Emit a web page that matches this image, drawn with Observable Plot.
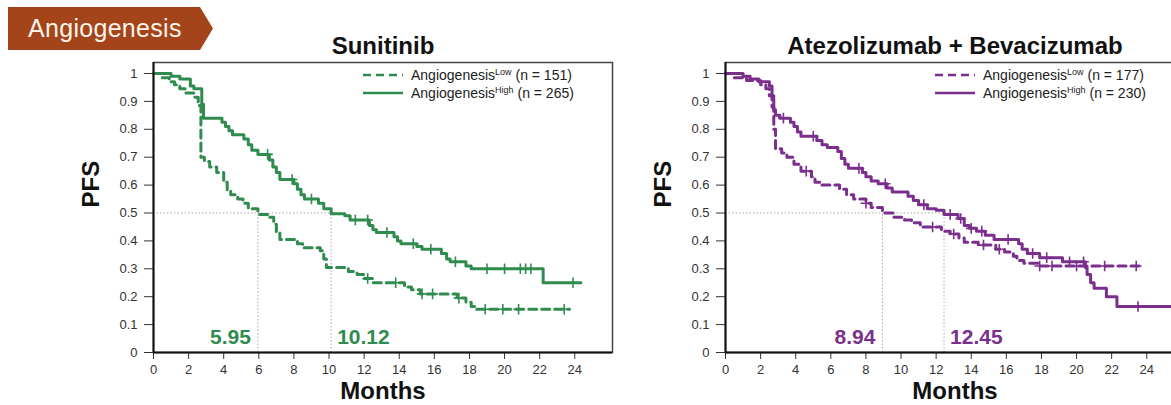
<!DOCTYPE html>
<html>
<head>
<meta charset="utf-8">
<script src="https://cdn.jsdelivr.net/npm/d3@7"></script>
<script src="https://cdn.jsdelivr.net/npm/@observablehq/plot@0.6"></script>
<style>
  html, body { margin: 0; padding: 0; background: #fff; }
  #wrap { position: relative; width: 1171px; height: 405px; overflow: hidden; font-family: 'Liberation Sans', Arial, sans-serif; }
  #badge { position: absolute; left: 8px; top: 7px; width: 205px; height: 43px; background: #a3441b;
           clip-path: polygon(0 0, 192px 0, 100% 50%, 192px 100%, 0 100%);
           color: #fdf3ea; font-size: 25px; letter-spacing: 0.3px; line-height: 43px; padding-left: 20px; box-sizing: border-box; }
  .panel { position: absolute; top: 0; }
</style>
</head>
<body>
<div id="wrap">
  <div id="badge">Angiogenesis</div>
</div>
<script>
// ---------- data ----------
const xTicks = [0, 2, 4, 6, 8, 10, 12, 14, 16, 18, 20, 22, 24];
const yTicks = [0, 0.1, 0.2, 0.3, 0.4, 0.5, 0.6, 0.7, 0.8, 0.9, 1];

const titles = ["Sunitinib", "Atezolizumab + Bevacizumab"];
const groupNames = ["Low", "High"];
const nSunitinib = [151, 265];
const nAtezoBev = [177, 230];
const mediansSunitinib = [5.95, 10.12];
const mediansAtezoBev = [8.94, 12.45];

// Kaplan–Meier steps: [month, PFS after the step]
const sunitinibLow = [[0,1],[0.5,0.985],[0.9,0.97],[1.2,0.96],[1.5,0.945],[1.8,0.93],[2.3,0.915],[2.55,0.885],[2.7,0.70],[2.9,0.685],[3.2,0.665],[3.6,0.645],[4.0,0.61],[4.2,0.58],[4.4,0.565],[4.8,0.55],[5.1,0.535],[5.4,0.515],[5.95,0.495],[6.6,0.485],[6.85,0.46],[7.0,0.43],[7.2,0.405],[8.2,0.39],[8.5,0.375],[9.5,0.365],[9.7,0.335],[9.85,0.305],[11.1,0.29],[11.6,0.28],[12.0,0.265],[12.5,0.25],[14.3,0.235],[14.7,0.225],[15.2,0.21],[17.3,0.195],[17.8,0.18],[18.1,0.165],[18.3,0.155]];
const sunitinibLowEnd = 23.7;
const sunitinibHigh = [[0,1],[1.0,0.99],[1.5,0.98],[2.1,0.955],[2.3,0.945],[2.75,0.89],[2.85,0.84],[3.9,0.825],[4.1,0.81],[4.3,0.795],[4.5,0.78],[5.15,0.765],[5.4,0.745],[5.6,0.725],[5.95,0.71],[6.6,0.69],[6.8,0.665],[7.0,0.645],[7.2,0.62],[8.0,0.605],[8.2,0.585],[8.4,0.565],[8.6,0.55],[9.4,0.535],[9.7,0.515],[10.12,0.497],[10.9,0.49],[11.2,0.475],[12.3,0.455],[12.5,0.44],[12.7,0.43],[13.7,0.415],[13.9,0.40],[14.1,0.39],[15.0,0.38],[15.3,0.37],[16.4,0.355],[16.7,0.335],[16.9,0.325],[17.8,0.31],[18.1,0.30],[22.2,0.25]];
const sunitinibHighEnd = 24.35;
const sunitinibLowCensor = [12.2, 13.8, 15.3, 15.9, 17.4, 18.9, 19.9, 20.8, 23.4];
const sunitinibHighCensor = [6.5, 7.9, 9.0, 11.5, 12.2, 13.3, 14.8, 15.8, 17.2, 19.0, 20.0, 20.9, 21.2, 21.5, 23.9];

const atezoBevLow = [[0,1],[0.5,0.985],[1.2,0.975],[2.0,0.96],[2.3,0.945],[2.5,0.92],[2.65,0.88],[2.75,0.80],[2.85,0.73],[3.2,0.715],[3.5,0.70],[3.9,0.675],[4.3,0.65],[4.9,0.63],[5.1,0.61],[5.5,0.60],[6.5,0.585],[6.9,0.565],[7.3,0.55],[8.0,0.535],[8.3,0.52],[8.94,0.50],[9.6,0.485],[10.2,0.475],[10.6,0.465],[11.1,0.45],[12.3,0.435],[12.8,0.425],[13.3,0.41],[13.6,0.395],[14.4,0.385],[15.4,0.37],[15.9,0.36],[16.4,0.345],[16.6,0.33],[17.0,0.32],[17.8,0.31]];
const atezoBevLowEnd = 23.8;
const atezoBevHigh = [[0,1],[1.0,0.99],[1.4,0.98],[1.9,0.97],[2.5,0.955],[2.65,0.92],[2.75,0.87],[2.85,0.85],[3.1,0.84],[3.7,0.825],[3.9,0.81],[4.1,0.79],[4.3,0.775],[5.2,0.76],[5.5,0.745],[5.8,0.735],[6.4,0.72],[6.6,0.695],[6.8,0.675],[7.0,0.66],[7.8,0.645],[8.0,0.63],[8.3,0.615],[8.7,0.605],[9.2,0.59],[9.5,0.575],[10.4,0.56],[10.7,0.545],[11.0,0.53],[11.5,0.515],[12.0,0.51],[12.45,0.495],[13.25,0.48],[13.6,0.455],[13.9,0.445],[14.3,0.435],[14.8,0.42],[15.3,0.405],[16.7,0.39],[16.9,0.37],[17.2,0.355],[17.9,0.34],[19.2,0.325],[20.5,0.305],[20.6,0.28],[20.8,0.25],[21.0,0.23],[21.7,0.20],[22.3,0.165]];
const atezoBevHighEnd = 26;
const atezoBevLowCensor = [4.6, 8.0, 11.8, 13.0, 14.7, 15.6, 17.9, 18.6, 20.0, 21.6, 23.4];
const atezoBevHighCensor = [3.3, 5.0, 7.6, 9.1, 11.3, 12.8, 13.4, 14.0, 14.6, 16.1, 17.5, 18.3, 19.6, 20.4, 23.5];

const colors = ["#2f8c4e", "#7b2f8c"];

// ---------- helpers ----------
function survAt(curve, t) { let s = 1; for (const [ti, si] of curve) if (ti <= t) s = si; return s; }
function withEnd(curve, end) { return [...curve, [end, curve[curve.length - 1][1]]]; }

const ML = 153, MT = 62, MB = 53, MR = 8, W = 620, H = 405;

function panel(cfg) {
  const { title, low, lowEnd, high, highEnd, lowCens, highCens, medians, color, ns } = cfg;
  const lowC = lowCens.map(t => [t, survAt(low, t)]);
  const highC = highCens.map(t => [t, survAt(high, t)]);
  const plot = Plot.plot({
    width: W, height: H,
    marginLeft: ML, marginRight: MR, marginTop: MT, marginBottom: MB,
    style: { fontFamily: "'Liberation Sans', Arial, sans-serif", fontSize: "13px", color: "#333", background: "transparent", overflow: "visible" },
    x: { domain: [0, 26.15], ticks: xTicks, tickSize: 7, tickPadding: 5, label: null, tickFormat: d => String(d) },
    y: { domain: [0, 1.0394], ticks: yTicks, tickSize: 9, tickPadding: 7, label: null,
         tickFormat: d => (d === 0 ? "0" : d === 1 ? "1" : d.toFixed(1)) },
    marks: [
      Plot.frame({ stroke: "#444", strokeWidth: 1.5 }),
      Plot.ruleY([0.5], { x1: 0, x2: Math.max(...medians), stroke: "#aaa", strokeWidth: 1, strokeDasharray: "1.5,2" }),
      Plot.ruleX(medians, { y1: 0, y2: 0.5, stroke: "#aaa", strokeWidth: 1, strokeDasharray: "1.5,2" }),
      Plot.line(withEnd(low, lowEnd), { x: d => d[0], y: d => d[1], curve: "step-after", stroke: color, strokeWidth: 3, strokeDasharray: "8,5" }),
      Plot.line(withEnd(high, highEnd), { x: d => d[0], y: d => d[1], curve: "step-after", stroke: color, strokeWidth: 3 }),
      Plot.dot(lowC, { x: d => d[0], y: d => d[1], symbol: "plus", r: 3.5, stroke: color, strokeWidth: 1.6 }),
      Plot.dot(highC, { x: d => d[0], y: d => d[1], symbol: "plus", r: 3.5, stroke: color, strokeWidth: 1.6 }),
      Plot.ruleX([0], { stroke: "#111", strokeWidth: 2 }),
      Plot.ruleY([0], { stroke: "#111", strokeWidth: 2 }),
      Plot.text([medians[0]], { x: d => d, frameAnchor: "bottom", lineAnchor: "middle", dy: -15, text: d => d.toFixed(2), textAnchor: "end", dx: -7, fill: color, fontSize: 21, fontWeight: "bold" }),
      Plot.text([medians[1]], { x: d => d, frameAnchor: "bottom", lineAnchor: "middle", dy: -15, text: d => d.toFixed(2), textAnchor: "start", dx: 6, fill: color, fontSize: 21, fontWeight: "bold" }),
      Plot.text([title], { frameAnchor: "top", lineAnchor: "middle", dy: -16, fontSize: 24, fontWeight: "bold", fill: "#111" }),
      Plot.text(["Months"], { frameAnchor: "bottom", lineAnchor: "middle", dy: 39, fontSize: 24, fontWeight: "bold", fill: "#111" }),
      Plot.text(["PFS"], { frameAnchor: "left", lineAnchor: "middle", dx: -62, rotate: -90, fontSize: 24, fontWeight: "bold", fill: "#111" })
    ]
  });

  // legend (not data): two rows inside the frame, top-right
  const svg = d3.select(plot);
  const g = svg.append("g").attr("font-family", "'Liberation Sans', Arial, sans-serif").attr("fill", "#222").attr("text-anchor", "start");
  const rows = [
    { name: groupNames[0], n: ns[0], dash: "8,5", y: 75 },
    { name: groupNames[1], n: ns[1], dash: null, y: 93 }
  ];
  rows.forEach(r => {
    g.append("line").attr("x1", ML + 210).attr("x2", ML + 250).attr("y1", r.y).attr("y2", r.y)
      .attr("stroke", color).attr("stroke-width", 2.5).attr("stroke-dasharray", r.dash);
    const t = g.append("text").attr("x", ML + 258).attr("y", r.y + 5).attr("font-size", 14).attr("text-anchor", "start");
    t.append("tspan").text("Angiogenesis");
    t.append("tspan").attr("font-size", 9).attr("dy", -5).text(r.name);
    t.append("tspan").attr("dy", 5).text(` (n = ${r.n})`);
  });
  return plot;
}

const wrap = document.getElementById("wrap");
const p1 = panel({ title: titles[0], low: sunitinibLow, lowEnd: sunitinibLowEnd, high: sunitinibHigh, highEnd: sunitinibHighEnd,
  lowCens: sunitinibLowCensor, highCens: sunitinibHighCensor, medians: mediansSunitinib, color: colors[0], ns: nSunitinib });
const p2 = panel({ title: titles[1], low: atezoBevLow, lowEnd: atezoBevLowEnd, high: atezoBevHigh, highEnd: atezoBevHighEnd,
  lowCens: atezoBevLowCensor, highCens: atezoBevHighCensor, medians: mediansAtezoBev, color: colors[1], ns: nAtezoBev });
p1.classList.add("panel"); p1.style.left = "0px";
p2.classList.add("panel"); p2.style.left = "572px";
wrap.appendChild(p1);
wrap.appendChild(p2);
</script>
</body>
</html>
